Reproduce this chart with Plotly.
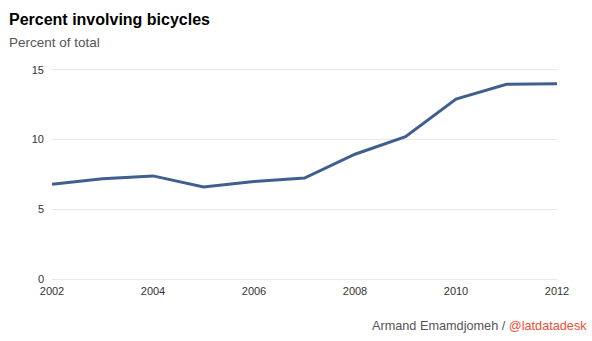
import plotly.graph_objects as go

years = [2002, 2003, 2004, 2005, 2006, 2007, 2008, 2009, 2010, 2011, 2012]
pct_bicycles = [6.8, 7.2, 7.4, 6.6, 7.0, 7.25, 8.95, 10.2, 12.9, 13.95, 14.0]
y_ticks = [0, 5, 10, 15]
x_ticks = [2002, 2004, 2006, 2008, 2010, 2012]

FONT = "Liberation Sans, Arial, Helvetica, sans-serif"

W, H = 592, 341
ML, MR, MT, MB = 52, 35, 68, 60
plot_w = W - ML - MR
plot_h = H - MT - MB


def px_to_paper(px, py):
    """Convert page pixel coordinates to paper coordinates."""
    return (px - ML) / plot_w, (H - MB - py) / plot_h


fig = go.Figure(
    go.Scatter(
        x=years,
        y=pct_bicycles,
        mode="lines",
        line=dict(color="#3f5f8f", width=3),
        hoverinfo="x+y",
    )
)

title_x, title_y = px_to_paper(7, 9)
sub_x, sub_y = px_to_paper(7, 33)
foot_x, foot_y = px_to_paper(589, 317)

fig.update_layout(
    width=W,
    height=H,
    margin=dict(l=ML, r=MR, t=MT, b=MB),
    paper_bgcolor="white",
    plot_bgcolor="white",
    showlegend=False,
    font=dict(family=FONT, size=11, color="#333333"),
    xaxis=dict(
        range=[2002, 2012],
        tickvals=x_ticks,
        ticktext=[str(v) for v in x_ticks],
        showgrid=False,
        zeroline=False,
        showline=False,
        ticks="",
        ticklabelstandoff=2,
        fixedrange=True,
    ),
    yaxis=dict(
        # padded slightly so the gridlines at 0 and 15 are kept
        range=[-0.12, 15.12],
        tickvals=y_ticks,
        showgrid=True,
        gridcolor="#e8e8e8",
        gridwidth=1,
        zeroline=False,
        showline=False,
        ticks="",
        ticklabelstandoff=7,
        fixedrange=True,
    ),
    annotations=[
        dict(
            text="<b>Percent involving bicycles</b>",
            x=title_x, y=title_y, xref="paper", yref="paper",
            xanchor="left", yanchor="top",
            font=dict(family=FONT, size=16, color="#000000"),
            showarrow=False,
        ),
        dict(
            text="Percent of total",
            x=sub_x, y=sub_y, xref="paper", yref="paper",
            xanchor="left", yanchor="top",
            font=dict(family=FONT, size=13.5, color="#555555"),
            showarrow=False,
        ),
        dict(
            text="Armand Emamdjomeh / <span style='color:#f04e37'>@latdatadesk</span>",
            x=foot_x, y=foot_y, xref="paper", yref="paper",
            xanchor="right", yanchor="top",
            font=dict(family=FONT, size=12.7, color="#555555"),
            showarrow=False,
        ),
    ],
)

fig.write_html("out.html")
